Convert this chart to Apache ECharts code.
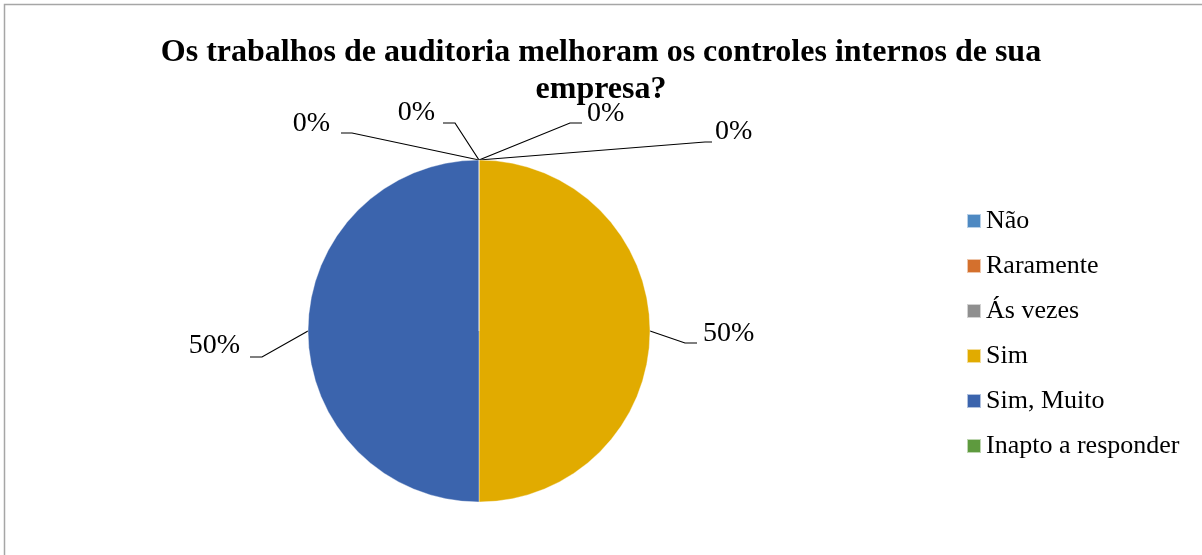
<!DOCTYPE html>
<html>
<head>
<meta charset="utf-8">
<script src="https://cdn.jsdelivr.net/npm/echarts@6/dist/echarts.min.js"></script>
<style>
  html, body { margin: 0; padding: 0; background: #fff; }
  #chart { width: 1202px; height: 555px; }
</style>
</head>
<body>
<div id="chart"></div>
<script>
// Survey answers and their share of responses (percent)
const categories = ['Não', 'Raramente', 'Ás vezes', 'Sim', 'Sim, Muito', 'Inapto a responder'];
const shares = [0, 0, 0, 50, 50, 0];
const colors = ['#4E89C2', '#D4702D', '#8F8F8F', '#E1AB00', '#3B64AD', '#5E9A3E'];
const titleText = 'Os trabalhos de auditoria melhoram os controles internos de sua\nempresa?';

// Callout placement per slice, relative to the slice's anchor on the rim:
// label anchor offset, text alignment, and the two bend points of the leader line.
const callouts = [
  { dx: -44, dy: -47, align: 'right', p1: [-24, -37], p2: [-36, -37] },
  { dx: 236, dy: -28, align: 'left',  p1: [226, -18], p2: [233, -18] },
  { dx: -149, dy: -36, align: 'right', p1: [-127, -27], p2: [-138, -27] },
  { dx: 53, dy: 3, align: 'left', p1: [35, 12], p2: [47, 12] },
  { dx: -68, dy: 15, align: 'right', p1: [-46, 26], p2: [-58, 26] },
  { dx: 108, dy: -46, align: 'left', p1: [91, -37], p2: [103, -37] }
];

const serif = '"Liberation Serif", "Times New Roman", serif';
const chart = echarts.init(document.getElementById('chart'), null, { renderer: 'canvas' });

chart.setOption({
  animation: false,
  color: colors,
  textStyle: { fontFamily: serif },
  graphic: [{
    type: 'rect',
    shape: { x: 4.5, y: 4.5, width: 1400, height: 800 },
    style: { fill: 'none', stroke: '#A6A6A6', lineWidth: 1.5 },
    silent: true
  }],
  title: {
    text: titleText,
    left: 596,
    top: 29,
    textAlign: 'center',
    textStyle: {
      fontFamily: serif,
      fontWeight: 'bold',
      fontSize: 32,
      lineHeight: 37,
      color: '#000'
    }
  },
  legend: {
    orient: 'vertical',
    left: 961,
    top: 203,
    itemWidth: 14,
    itemHeight: 14,
    itemGap: 19,
    icon: 'rect',
    data: categories,
    textStyle: {
      fontFamily: serif,
      fontSize: 26,
      color: '#000'
    }
  },
  series: [{
    type: 'pie',
    center: [479, 331],
    radius: 171,
    startAngle: 90,
    clockwise: true,
    avoidLabelOverlap: false,
    stillShowZeroSum: true,
    minShowLabelAngle: 0,
    itemStyle: { borderColor: 'rgba(255,255,255,0.6)', borderWidth: 0.6 },
    emphasis: { disabled: true },
    label: {
      show: true,
      position: 'outside',
      formatter: p => p.value + '%',
      fontFamily: serif,
      fontSize: 28,
      color: '#000'
    },
    labelLine: {
      show: true,
      showAbove: true,
      length: 20,
      length2: 10,
      lineStyle: { color: '#000', width: 1.2 }
    },
    labelLayout: function (params) {
      const c = callouts[params.dataIndex];
      const a = params.labelLinePoints[0];
      return {
        x: a[0] + c.dx,
        y: a[1] + c.dy,
        align: c.align,
        verticalAlign: 'middle',
        labelLinePoints: [
          [a[0], a[1]],
          [a[0] + c.p1[0], a[1] + c.p1[1]],
          [a[0] + c.p2[0], a[1] + c.p2[1]]
        ]
      };
    },
    data: categories.map((name, i) => ({ name: name, value: shares[i] }))
  }]
});
</script>
</body>
</html>
